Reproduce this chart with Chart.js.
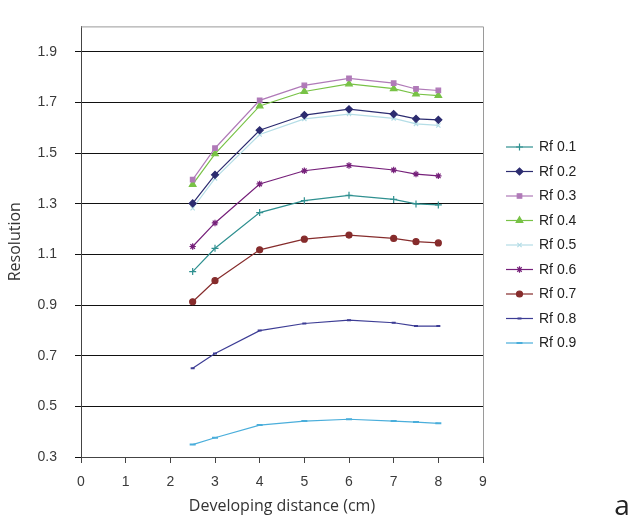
<!DOCTYPE html>
<html>
<head>
<meta charset="utf-8">
<title>Resolution vs developing distance</title>
<script src="https://cdn.jsdelivr.net/npm/chart.js@4.4.1/dist/chart.umd.min.js"></script>
<style>
    html, body { margin: 0; padding: 0; background: #fff; }
    .chart-box { width: 641px; height: 520px; }
</style>
</head>
<body>
<div class="chart-box"><canvas id="resolution-chart"></canvas></div>
<script>
// Developing distance (cm)
const distances = [2.5, 3, 4, 5, 6, 7, 7.5, 8];

// Resolution for each Rf value
const rf01 = [1.032, 1.124, 1.265, 1.312, 1.333, 1.317, 1.299, 1.295];
const rf02 = [1.301, 1.414, 1.590, 1.650, 1.673, 1.654, 1.635, 1.631];
const rf03 = [1.395, 1.519, 1.708, 1.767, 1.795, 1.776, 1.753, 1.747];
const rf04 = [1.376, 1.497, 1.686, 1.743, 1.773, 1.754, 1.733, 1.727];
const rf05 = [1.282, 1.400, 1.573, 1.635, 1.654, 1.637, 1.615, 1.609];
const rf06 = [1.131, 1.224, 1.378, 1.430, 1.451, 1.433, 1.417, 1.410];
const rf07 = [0.913, 0.996, 1.118, 1.160, 1.176, 1.163, 1.150, 1.145];
const rf08 = [0.650, 0.709, 0.799, 0.827, 0.840, 0.830, 0.817, 0.817];
const rf09 = [0.349, 0.376, 0.426, 0.442, 0.449, 0.442, 0.438, 0.433];

const seriesNames = ["Rf 0.1", "Rf 0.2", "Rf 0.3", "Rf 0.4", "Rf 0.5", "Rf 0.6", "Rf 0.7", "Rf 0.8", "Rf 0.9"];
const seriesValues = [rf01, rf02, rf03, rf04, rf05, rf06, rf07, rf08, rf09];

// Axis ticks
const yTicks = [0.3, 0.5, 0.7, 0.9, 1.1, 1.3, 1.5, 1.7, 1.9];
const xTicks = [0, 1, 2, 3, 4, 5, 6, 7, 8, 9];

// Line colour, marker and marker size per series
const seriesColors = ['#2f9090', '#2c2c70', '#b07ab8', '#78c246', '#b4dde6', '#76207a', '#862c2c', '#3d3d95', '#4aaedb'];
const seriesMarkers = ['cross', 'rectRot', 'rect', 'triangle', 'crossRot', 'star', 'circle', 'line', 'line'];
const markerSizes = [3.5, 3.5, 3.2, 3.8, 3, 3.2, 3, 2, 3];

const datasets = seriesNames.map((name, i) => ({
    label: name,
    data: distances.map((d, j) => ({ x: d, y: seriesValues[i][j] })),
    borderColor: seriesColors[i],
    backgroundColor: seriesColors[i],
    borderWidth: 1.2,
    pointStyle: seriesMarkers[i],
    pointRadius: markerSizes[i],
    pointBorderWidth: seriesMarkers[i] === 'line' ? 2 : 1.2,
    tension: 0
}));

// Grey frame on top and right of the plot area
const frame = {
    id: 'frame',
    beforeDatasetsDraw(chart) {
        const { ctx, chartArea: a } = chart;
        ctx.save();
        ctx.strokeStyle = '#9a9a9a';
        ctx.lineWidth = 1;
        ctx.beginPath();
        ctx.moveTo(a.left, a.top + 0.5);
        ctx.lineTo(a.right + 0.5, a.top + 0.5);
        ctx.lineTo(a.right + 0.5, a.bottom);
        ctx.stroke();
        ctx.restore();
    }
};

// Legend on the right: short line with the series marker, then the name
const sideLegend = {
    id: 'sideLegend',
    afterDraw(chart) {
        const ctx = chart.ctx;
        const x0 = 506, x1 = 533, top = 147, step = 24.5;
        ctx.save();
        chart.data.datasets.forEach((ds, i) => {
            const y = top + i * step;
            ctx.strokeStyle = ds.borderColor;
            ctx.fillStyle = ds.backgroundColor;
            ctx.lineWidth = ds.borderWidth;
            ctx.beginPath();
            ctx.moveTo(x0, y);
            ctx.lineTo(x1, y);
            ctx.stroke();
            ctx.lineWidth = ds.pointBorderWidth;
            Chart.helpers.drawPoint(ctx, {
                pointStyle: ds.pointStyle,
                radius: ds.pointRadius,
                rotation: 0,
                borderWidth: ds.pointBorderWidth
            }, (x0 + x1) / 2, y);
            ctx.fillStyle = '#222';
            ctx.font = '14px "Liberation Sans", Arial, sans-serif';
            ctx.textBaseline = 'middle';
            ctx.textAlign = 'left';
            ctx.fillText(ds.label, 539, y + 0.5);
        });
        // panel letter
        ctx.fillStyle = '#222';
        ctx.font = '28px "Open Sans", sans-serif';
        ctx.textAlign = 'center';
        ctx.textBaseline = 'alphabetic';
        ctx.fillText('a', 622, 515);
        ctx.restore();
    }
};

const tickFont = { family: '"Liberation Sans", Arial, sans-serif', size: 14 };
const titleFont = { family: '"Open Sans", sans-serif', size: 16 };

new Chart(document.getElementById('resolution-chart'), {
    type: 'line',
    data: { datasets: datasets },
    options: {
        responsive: true,
        maintainAspectRatio: false,
        animation: false,
        layout: { padding: { top: 16, right: 158, bottom: 0, left: 0 } },
        plugins: {
            legend: { display: false },
            tooltip: { enabled: false }
        },
        scales: {
            x: {
                type: 'linear',
                min: 0,
                max: 9,
                afterBuildTicks: (scale) => { scale.ticks = xTicks.map(v => ({ value: v })); },
                afterFit: (scale) => { scale.height = 63; },
                ticks: { color: '#3a3a3a', font: tickFont, padding: 11 },
                grid: { drawOnChartArea: false, drawTicks: true, tickLength: 6, color: '#444' },
                border: { color: '#444', width: 1 },
                title: {
                    display: true,
                    text: 'Developing distance (cm)',
                    color: '#333',
                    font: titleFont,
                    padding: { top: 0, bottom: 4 }
                }
            },
            y: {
                type: 'linear',
                min: 0.3,
                max: 2.0,
                afterBuildTicks: (scale) => { scale.ticks = yTicks.map(v => ({ value: v })); },
                afterFit: (scale) => { scale.width = 81; },
                ticks: {
                    color: '#3a3a3a',
                    font: tickFont,
                    padding: 18,
                    callback: (v) => Number(v).toFixed(1)
                },
                grid: { color: '#111', lineWidth: 1, tickLength: 6 },
                border: { color: '#444', width: 1 },
                title: {
                    display: true,
                    text: 'Resolution',
                    color: '#333',
                    font: titleFont,
                    padding: { top: 6, bottom: 0 }
                }
            }
        }
    },
    plugins: [frame, sideLegend]
});
</script>
</body>
</html>
